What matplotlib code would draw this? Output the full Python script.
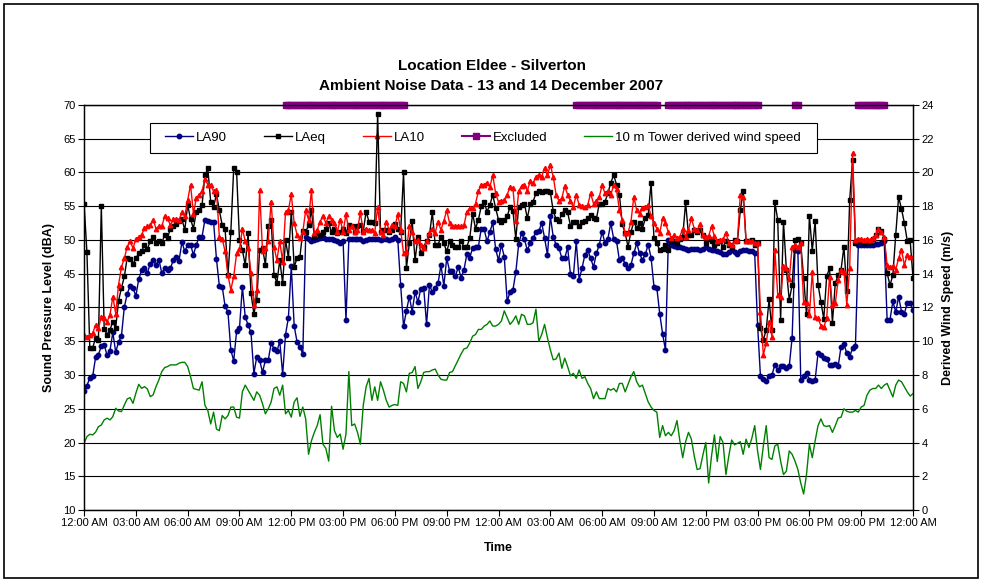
import numpy as np
import pandas as pd
import matplotlib
matplotlib.use("Agg")
import matplotlib.pyplot as plt
import matplotlib.dates as mdates
from matplotlib.patches import Rectangle

plt.rcParams["font.family"] = "Liberation Sans"

start = "2007-12-13 00:00"
end = "2007-12-15 00:00"
step = "10min"

# 10-minute values, one row per hour (last value is midnight 15 Dec)
la90 = [
    27.7, 28.4, 29.6, 29.8, 32.6, 33.0,
    34.3, 34.5, 32.9, 33.6, 36.3, 33.4,
    34.9, 35.8, 40.1, 42.0, 43.2, 42.9,
    41.7, 44.2, 45.5, 45.9, 45.1, 46.5,
    47.1, 46.3, 47.1, 45.1, 45.8, 45.6,
    45.8, 47.0, 47.5, 46.9, 49.7, 48.3,
    49.3, 49.3, 47.8, 49.3, 50.5, 50.5,
    53.0, 52.8, 52.6, 52.7, 47.2, 43.2,
    43.1, 40.2, 39.3, 33.7, 32.1, 36.5,
    36.9, 43.1, 38.6, 37.4, 36.3, 30.2,
    32.7, 32.2, 30.4, 32.2, 32.2, 34.7,
    33.9, 33.5, 35.0, 30.1, 36.0, 38.5,
    46.1, 37.3, 34.9, 34.2, 33.1, 50.5,
    50.2, 49.9, 50.0, 50.1, 50.3, 50.5,
    50.2, 50.1, 50.2, 50.0, 49.8, 49.6,
    49.9, 38.1, 50.1, 50.2, 50.1, 50.1,
    50.1, 49.8, 50.0, 50.1, 50.1, 50.2,
    50.2, 50.0, 50.1, 50.1, 50.0, 50.1,
    50.5, 50.0, 43.3, 37.2, 39.5, 41.6,
    39.4, 42.3, 40.8, 42.8, 42.9, 37.5,
    43.3, 42.3, 42.9, 43.6, 46.3, 43.2,
    47.3, 45.4, 45.4, 44.6, 46.0, 44.4,
    45.6, 47.9, 47.4, 48.8, 48.9, 49.0,
    51.7, 51.6, 49.8, 51.2, 52.6, 48.6,
    47.0, 49.3, 47.5, 40.9, 42.3, 42.6,
    45.2, 49.4, 51.0, 50.1, 48.5, 49.5,
    50.3, 51.2, 51.3, 52.5, 50.3, 47.8,
    53.5, 50.5, 49.3, 48.8, 47.3, 47.3,
    48.9, 44.9, 44.6, 49.8, 44.1, 45.8,
    47.8, 48.5, 47.3, 46.0, 48.0, 49.3,
    51.2, 49.5, 50.2, 52.5, 50.2, 49.8,
    47.0, 47.3, 46.5, 45.9, 46.3, 48.0,
    49.5, 48.0, 47.0, 47.9, 49.3, 47.4,
    43.1, 42.9, 39.1, 36.1, 33.7, 50.0,
    49.3, 49.1, 49.0, 48.9, 48.8, 48.7,
    48.5, 48.7, 48.7, 48.7, 48.5, 48.6,
    48.9, 48.7, 48.5, 48.5, 48.3, 48.2,
    47.9, 47.9, 48.2, 48.5, 48.2, 47.9,
    48.4, 48.5, 48.5, 48.4, 48.4, 48.0,
    37.4, 29.8, 29.4, 29.1, 29.8, 30.0,
    31.5, 30.8, 31.3, 31.3, 31.0, 31.3,
    35.5, 48.5, 48.3, 29.3, 29.8, 30.3,
    29.3, 29.1, 29.3, 33.2, 33.0, 32.5,
    32.3, 31.5, 31.5, 31.7, 31.3, 34.2,
    34.6, 33.2, 32.7, 34.0, 34.3, 49.3,
    49.2, 49.2, 49.2, 49.2, 49.3, 49.4,
    49.4, 49.5, 49.8, 38.2, 38.2, 40.9,
    39.3, 41.6, 39.4, 39.1, 40.7, 40.7,
    39.6,
]

laeq = [
    55.4, 48.2, 34.0, 34.0, 35.5, 35.2,
    55.0, 36.8, 36.0, 36.7, 37.9, 37.0,
    41.0, 42.9, 44.6, 47.4, 47.2, 46.4,
    47.3, 48.0, 48.3, 49.3, 48.7, 49.8,
    50.5, 49.5, 49.8, 49.5, 50.8, 50.3,
    51.7, 52.0, 52.3, 52.8, 53.1, 51.5,
    55.2, 53.1, 51.7, 54.2, 54.4, 55.2,
    59.6, 60.6, 55.7, 54.9, 56.8, 54.4,
    52.2, 51.7, 44.8, 51.2, 60.7, 60.1,
    50.0, 48.5, 46.3, 51.0, 42.1, 39.1,
    41.1, 48.5, 48.8, 46.3, 52.0, 53.0,
    44.8, 43.7, 47.0, 43.6, 50.0, 47.4,
    54.2, 46.0, 47.3, 47.5, 51.3, 51.2,
    52.2, 54.4, 50.5, 51.0, 50.7, 51.2,
    51.7, 52.5, 51.2, 51.7, 51.0, 51.2,
    51.7, 51.0, 52.2, 52.0, 51.2, 52.0,
    52.2, 51.3, 54.2, 52.7, 52.7, 52.5,
    68.6, 51.2, 51.5, 51.5, 51.2, 51.5,
    52.3, 51.7, 51.2, 60.0, 45.8, 49.5,
    52.8, 47.0, 50.5, 48.0, 49.0, 49.8,
    50.7, 54.1, 49.3, 49.3, 50.5, 49.5,
    48.3, 49.8, 49.3, 49.0, 48.9, 49.8,
    49.0, 49.0, 50.3, 53.9, 51.7, 53.0,
    55.0, 55.7, 54.2, 55.2, 56.7, 54.7,
    53.0, 52.7, 53.0, 53.5, 54.9, 54.3,
    50.2, 54.9, 55.2, 55.4, 53.2, 55.4,
    55.7, 56.9, 57.2, 57.1, 57.2, 57.2,
    57.1, 54.3, 53.1, 52.8, 53.9, 54.4,
    54.1, 52.1, 52.6, 52.7, 52.0, 52.7,
    52.8, 53.2, 53.7, 53.3, 53.1, 55.4,
    55.4, 55.7, 56.9, 58.5, 59.6, 58.2,
    56.7, 52.3, 51.0, 49.0, 51.2, 52.7,
    51.8, 52.5, 51.7, 53.2, 53.7, 58.5,
    50.3, 49.5, 48.5, 48.7, 49.3, 48.5,
    50.0, 49.8, 49.5, 50.1, 50.5, 55.6,
    50.7, 50.7, 51.5, 51.2, 51.5, 50.7,
    49.5, 50.2, 49.8, 49.3, 49.5, 49.8,
    49.0, 49.8, 49.3, 49.0, 50.0, 49.8,
    54.4, 57.2, 49.8, 49.8, 50.0, 49.2,
    49.5, 36.9, 35.2, 36.7, 41.2, 36.6,
    55.6, 53.0, 38.2, 52.7, 45.6, 41.1,
    43.3, 50.0, 50.2, 49.5, 44.4, 39.0,
    53.6, 48.4, 52.8, 43.4, 40.8, 38.3,
    44.6, 45.8, 37.7, 43.6, 44.8, 45.6,
    49.0, 42.4, 55.9, 61.9, 49.5, 49.8,
    49.8, 49.6, 49.7, 49.7, 50.1, 50.8,
    51.6, 51.3, 50.2, 45.1, 43.3, 44.8,
    50.8, 56.4, 54.6, 52.5, 49.9, 50.0,
    44.4,
]

la10 = [
    36.0, 35.7, 35.9, 36.2, 37.4, 36.9,
    38.6, 38.5, 37.9, 38.9, 41.6, 39.1,
    43.4, 46.0, 47.3, 49.0, 49.8, 48.8,
    50.1, 50.5, 50.8, 51.8, 52.0, 52.2,
    53.0, 51.7, 52.0, 52.0, 53.5, 53.2,
    52.2, 53.1, 53.1, 53.0, 54.1, 53.5,
    55.9, 58.2, 53.9, 56.2, 56.7, 57.2,
    59.1, 58.2, 58.2, 57.2, 57.4, 50.5,
    50.2, 48.3, 44.8, 42.6, 44.6, 48.0,
    48.6, 51.7, 49.8, 48.8, 45.1, 40.4,
    42.6, 57.4, 48.4, 48.8, 49.9, 55.7,
    49.0, 47.0, 49.8, 46.8, 54.2, 54.4,
    56.8, 52.5, 50.8, 50.3, 51.2, 54.4,
    53.0, 57.4, 51.0, 51.5, 52.7, 53.6,
    52.5, 53.5, 53.0, 52.5, 51.2, 53.0,
    51.2, 53.8, 51.5, 52.1, 51.2, 51.5,
    54.1, 51.2, 51.7, 51.5, 51.5, 51.1,
    54.9, 51.2, 50.7, 52.7, 51.5, 52.2,
    52.0, 53.8, 51.5, 48.0, 48.3, 52.0,
    51.2, 49.8, 50.0, 49.3, 48.8, 49.8,
    51.0, 51.7, 51.1, 52.7, 51.5, 52.8,
    54.4, 52.5, 52.0, 52.1, 52.1, 52.0,
    52.2, 54.2, 54.7, 54.7, 55.4, 57.2,
    58.2, 58.2, 58.5, 57.9, 59.6, 56.9,
    55.6, 55.8, 55.9, 56.7, 57.9, 57.7,
    52.8, 57.2, 58.0, 58.2, 57.3, 58.7,
    58.4, 59.4, 59.7, 59.4, 60.7, 59.6,
    61.1, 59.4, 56.7, 55.8, 56.2, 58.0,
    56.7, 55.8, 54.9, 56.7, 55.2, 55.1,
    54.9, 55.2, 56.9, 55.4, 55.8, 56.4,
    58.1, 56.9, 57.2, 56.7, 58.1, 57.5,
    54.4, 53.0, 51.0, 51.1, 52.7, 56.4,
    54.4, 53.9, 54.7, 54.9, 55.2, 53.5,
    52.5, 51.7, 51.0, 53.2, 52.5, 51.2,
    50.3, 50.7, 50.3, 50.5, 51.7, 50.5,
    51.5, 53.2, 51.7, 51.5, 52.3, 50.7,
    50.5, 50.6, 52.0, 50.6, 49.8, 50.0,
    50.1, 51.1, 49.5, 49.3, 49.8, 50.0,
    56.7, 56.4, 49.8, 49.9, 49.8, 49.5,
    49.5, 39.4, 33.0, 34.7, 37.9, 35.7,
    48.5, 41.9, 41.6, 46.1, 45.8, 44.2,
    49.0, 49.3, 49.0, 49.5, 40.8, 40.6,
    38.9, 45.3, 38.6, 38.4, 37.3, 37.1,
    38.4, 44.5, 40.4, 40.6, 44.1, 45.6,
    45.3, 40.4, 45.8, 62.9, 50.0, 50.2,
    50.1, 50.0, 50.2, 50.0, 50.3, 50.8,
    51.7, 51.2, 50.5, 46.3, 46.0, 46.1,
    45.6, 47.3, 48.5, 46.3, 47.8, 47.5,
    47.5,
]

# 10 m tower derived wind speed (m/s)
wind = [
    3.95, 4.35, 4.49, 4.45, 4.61, 4.94,
    5.04, 5.34, 5.44, 5.34, 5.53, 6.03,
    5.87, 5.83, 6.22, 6.58, 6.66, 6.32,
    6.92, 7.45, 7.21, 7.31, 7.17, 6.72,
    6.82, 7.31, 7.71, 8.20, 8.44, 8.50,
    8.60, 8.60, 8.60, 8.70, 8.75, 8.75,
    8.50, 7.90, 7.20, 7.15, 7.10, 7.60,
    6.20, 5.90, 5.10, 5.80, 4.80, 4.70,
    5.60, 5.40, 5.60, 6.10, 6.10, 5.50,
    5.45, 7.00, 7.40, 7.10, 6.80, 6.50,
    7.00, 6.80, 6.30, 5.70, 6.00, 6.40,
    7.20, 7.30, 6.80, 7.40, 5.70, 5.90,
    5.50, 6.40, 6.65, 5.55, 6.10, 5.40,
    3.30, 4.10, 4.60, 5.00, 5.65, 3.90,
    3.65, 2.90, 6.15, 4.70, 4.30, 4.50,
    3.60, 4.50, 8.20, 5.00, 5.10, 4.60,
    3.90, 6.20, 7.30, 7.80, 6.50, 7.30,
    6.50, 7.60, 7.10, 6.50, 6.10, 6.20,
    6.25, 6.20, 7.60, 7.50, 7.00, 8.10,
    8.15, 8.50, 7.20, 7.60, 8.15, 8.20,
    8.20, 8.30, 8.35, 8.00, 7.75, 7.70,
    7.70, 8.15, 8.20, 8.55, 8.90, 9.25,
    9.55, 9.60, 9.90, 10.30, 10.40, 10.70,
    10.70, 10.90, 11.00, 11.20, 10.90, 10.90,
    11.00, 11.20, 11.80, 11.40, 11.00, 11.20,
    11.50, 11.00, 11.60, 11.50, 11.00, 11.00,
    11.10, 11.90, 10.00, 10.40, 11.00, 10.20,
    9.50, 8.90, 8.95, 9.30, 8.40, 9.00,
    8.50, 7.95, 8.10, 7.80, 8.30, 7.80,
    7.90, 7.50, 7.20, 6.60, 7.00, 6.60,
    6.60, 6.60, 7.20, 7.10, 7.20, 7.00,
    7.50, 7.50, 7.00, 7.45, 7.90, 8.20,
    7.60, 7.30, 7.40, 6.90, 6.40, 6.10,
    5.90, 5.80, 4.30, 5.00, 4.40, 4.60,
    4.40, 4.70, 5.30, 4.10, 3.10, 4.05,
    4.60, 4.20, 3.20, 2.40, 2.45, 3.26,
    4.00, 1.60, 3.20, 4.45, 2.87, 4.35,
    4.00, 2.10, 3.20, 4.15, 3.86, 3.95,
    4.05, 3.30, 4.20, 3.70, 4.25, 5.00,
    3.50, 2.40, 3.80, 5.00, 3.10, 3.00,
    3.80, 3.90, 2.90, 2.10, 2.30, 3.50,
    3.30, 2.90, 2.40, 1.60, 0.95, 2.10,
    3.90, 3.10, 4.10, 5.00, 5.40, 5.00,
    4.95, 5.00, 4.60, 5.00, 5.45, 5.50,
    6.00, 5.85, 5.80, 5.80, 5.90, 5.80,
    6.10, 6.20, 6.80, 7.10, 7.20, 7.20,
    7.40, 7.20, 7.40, 7.50, 7.10, 6.70,
    7.40, 7.70, 7.60, 7.30, 7.00, 6.75,
    6.90,
]

# periods flagged as excluded, drawn along the top of the chart
excluded_from = ["2007-12-13 11:40", "2007-12-14 04:30", "2007-12-14 09:50",
                 "2007-12-14 17:10", "2007-12-14 20:50"]
excluded_to = ["2007-12-13 18:30", "2007-12-14 09:10", "2007-12-14 15:00",
               "2007-12-14 17:20", "2007-12-14 22:20"]
excluded_level = 70

times = pd.date_range(start, end, freq=step)

excluded = np.full(len(times), np.nan)
for a, b in zip(excluded_from, excluded_to):
    mask = (times >= pd.Timestamp(a)) & (times <= pd.Timestamp(b))
    excluded[mask] = excluded_level

fig = plt.figure(figsize=(9.83, 5.82), dpi=100)
ax = fig.add_axes([0.0855, 0.1237, 0.8433, 0.6959])
ax2 = ax.twinx()

ax.plot(times, la90, color="#000080", marker="o", ms=3.2, lw=1, zorder=3, label="LA90")
ax.plot(times, laeq, color="black", marker="s", ms=3.2, lw=1, zorder=3.1, label="LAeq")
ax.plot(times, la10, color="red", marker="^", ms=3.2, lw=1, zorder=3.2, label="LA10")
ax.plot(times, excluded, color="#800080", marker="s", ms=5, lw=1.5,
        clip_on=False, zorder=4, label="Excluded")
ax2.plot(times, wind, color="#008000", lw=1, label="10 m Tower derived wind speed")

ax.set_xlim(times[0], times[-1])
ax.xaxis.set_major_locator(mdates.HourLocator(byhour=range(0, 24, 3)))
ax.xaxis.set_major_formatter(mdates.DateFormatter("%I:%M %p"))

ax.set_ylim(10, 70)
ax.set_yticks(range(10, 71, 5))
ax2.set_ylim(0, 24)
ax2.set_yticks(range(0, 25, 2))

ax.yaxis.grid(True, color="black", lw=0.8)
ax.set_axisbelow(True)

for a in (ax, ax2):
    a.tick_params(direction="out", length=4, width=0.8, labelsize=8, pad=2)
    for s in a.spines.values():
        s.set_linewidth(0.9)

ax.set_ylabel("Sound Pressure Level (dBA)", fontsize=9, fontweight="bold", labelpad=6)
ax2.set_ylabel("Derived Wind Speed (m/s)", fontsize=9, fontweight="bold", labelpad=6)
ax.set_xlabel("Time", fontsize=9, fontweight="bold", labelpad=10)

fig.text(0.5, 1 - 66 / 582, "Location Eldee - Silverton", ha="center", va="center",
         fontsize=11, fontweight="bold")
fig.text(0.5, 1 - 86 / 582, "Ambient Noise Data - 13 and 14 December 2007", ha="center",
         va="center", fontsize=11, fontweight="bold")

# legend box sits above the gridlines but under the data lines
box = Rectangle((150 / 983, 1 - 153 / 582), 667 / 983, 30 / 582, transform=fig.transFigure,
                facecolor="white", edgecolor="black", lw=0.8, zorder=2.55, clip_on=False)
ax.add_patch(box)

h1, l1 = ax.get_legend_handles_labels()
h2, l2 = ax2.get_legend_handles_labels()
leg = ax.legend(h1 + h2, l1 + l2, ncol=5, loc="center",
                bbox_to_anchor=(0.4914, 0.7629), bbox_transform=fig.transFigure,
                fontsize=9.5, frameon=False, handlelength=2.1, handletextpad=0.25,
                columnspacing=2.8, borderpad=0.6, numpoints=1)
leg.set_zorder(2.6)

# chart area border
fig.patches.append(Rectangle((4 / 983, 4 / 582), 974 / 983, 574 / 582, fill=False,
                             edgecolor="black", lw=1.2, transform=fig.transFigure))

fig.savefig("out.png", dpi=100)
